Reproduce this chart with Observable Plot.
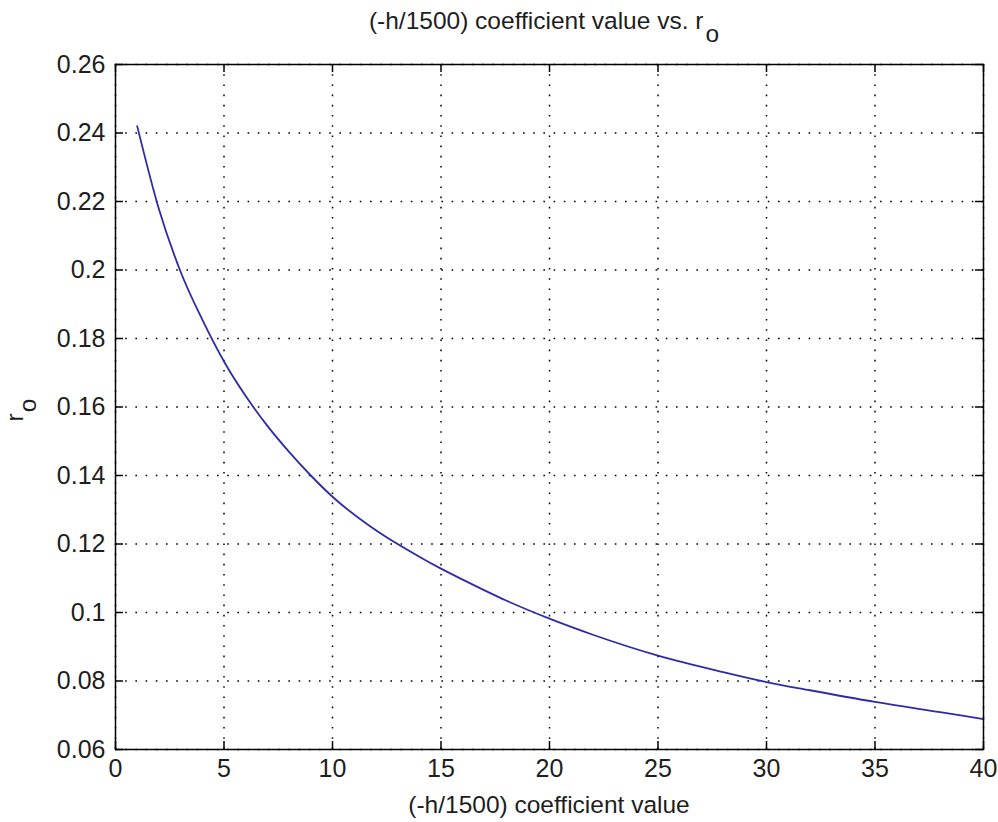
<!DOCTYPE html>
<html>
<head>
<meta charset="utf-8">
<script src="https://cdn.jsdelivr.net/npm/d3@7"></script>
<script src="https://cdn.jsdelivr.net/npm/@observablehq/plot@0.6"></script>
<style>
  html, body { margin: 0; padding: 0; background: white; }
  #chart svg { display: block; }
</style>
</head>
<body>
<div id="chart"></div>
<script>
const xValues = [1, 2, 3, 4, 5, 6, 7, 8, 9, 10, 12, 14, 15, 16, 18, 20, 22, 25, 28, 30, 32, 35, 38, 40];
const rValues = [0.242, 0.2178, 0.1995, 0.1855, 0.1733, 0.1632, 0.1545, 0.1469, 0.1400, 0.1338, 0.1240, 0.1163, 0.1128, 0.1096, 0.1035, 0.0982, 0.0935, 0.0874, 0.0826, 0.0797, 0.0773, 0.0739, 0.0709, 0.0689];
const xTicks = [0, 5, 10, 15, 20, 25, 30, 35, 40];
const yTicks = [0.06, 0.08, 0.1, 0.12, 0.14, 0.16, 0.18, 0.2, 0.22, 0.24, 0.26];
const titleMain = "(-h/1500) coefficient value vs. r";
const titleSub = "o";
const xLabel = "(-h/1500) coefficient value";
const yLabelMain = "r";
const yLabelSub = "o";

const data = xValues.map((x, i) => ({x, r: rValues[i]}));

const W = 998, H = 822;
const mL = 115, mR = 15, mT = 64, mB = 73;
const plotW = W - mL - mR, plotH = H - mT - mB;
const tickLen = 8;
const font = "'Liberation Sans', Arial, Helvetica, sans-serif";
const fs = 24;
const tfs = 25;
const ink = "#1e1e1e";
const dots = "1.6,8.6";

const chart = Plot.plot({
  width: W, height: H,
  marginLeft: mL, marginRight: mR, marginTop: mT, marginBottom: mB,
  x: {domain: [0, 40]},
  y: {domain: [0.06, 0.26]},
  style: {fontFamily: font, fontSize: fs + "px", background: "white", color: "black"},
  marks: [
    Plot.gridX(xTicks, {stroke: "black", strokeOpacity: 1, strokeWidth: 1.5, strokeDasharray: dots}),
    Plot.gridY(yTicks, {stroke: "black", strokeOpacity: 1, strokeWidth: 1.5, strokeDasharray: dots}),
    Plot.line(data, {x: "x", y: "r", stroke: "#2c2ca8", strokeWidth: 1.8, curve: "monotone-x"}),
    Plot.frame({stroke: "black", strokeWidth: 1.5}),
    Plot.ruleX(xTicks, {x: d => d, stroke: "black", strokeWidth: 1.5, insetTop: plotH - tickLen}),
    Plot.ruleX(xTicks, {x: d => d, stroke: "black", strokeWidth: 1.5, insetBottom: plotH - tickLen}),
    Plot.ruleY(yTicks, {y: d => d, stroke: "black", strokeWidth: 1.5, insetRight: plotW - tickLen}),
    Plot.ruleY(yTicks, {y: d => d, stroke: "black", strokeWidth: 1.5, insetLeft: plotW - tickLen}),
    Plot.axisX(xTicks, {tickSize: 0, tickPadding: 10, label: null, fontSize: tfs, fill: ink}),
    Plot.axisY(yTicks, {tickSize: 0, tickPadding: 10, label: null, fontSize: tfs, fill: ink,
      tickFormat: d => String(+d.toFixed(2))})
  ]
});

const svg = d3.select(chart);
const cx = mL + plotW / 2;

// title
const t = svg.append("text")
  .attr("x", cx - 5).attr("y", 29)
  .attr("text-anchor", "middle")
  .attr("font-family", font).attr("font-size", fs + 0.5).attr("fill", ink);
t.append("tspan").text(titleMain);
t.append("tspan").attr("dx", 2).attr("dy", 13).text(titleSub);

// x label
svg.append("text")
  .attr("x", cx).attr("y", 813)
  .attr("text-anchor", "middle")
  .attr("font-family", font).attr("font-size", fs + 0.5).attr("fill", ink)
  .text(xLabel);

// y label
const yl = svg.append("text")
  .attr("transform", "translate(23,410) rotate(-90)")
  .attr("text-anchor", "middle")
  .attr("font-family", font).attr("font-size", fs + 0.5).attr("fill", ink);
yl.append("tspan").text(yLabelMain);
yl.append("tspan").attr("dx", 1).attr("dy", 13).text(yLabelSub);

document.getElementById("chart").appendChild(chart);
</script>
</body>
</html>
